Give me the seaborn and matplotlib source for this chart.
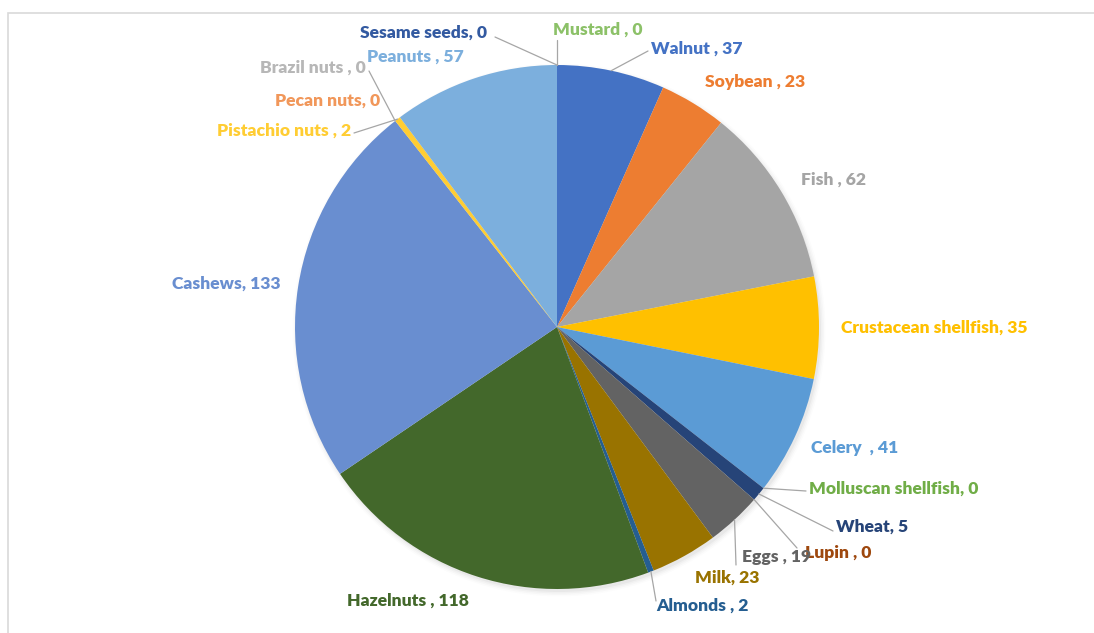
import numpy as np
import matplotlib
matplotlib.use("Agg")
from matplotlib import pyplot as plt
from matplotlib.patches import Circle, Rectangle
import seaborn as sns

# pie order, clockwise from 12 o'clock (as in the source sheet)
allergens = ["Walnut ", "Soybean ", "Fish ", "Crustacean shellfish", "Celery  ",
             "Molluscan shellfish", "Wheat", "Lupin ", "Eggs ", "Milk", "Almonds ",
             "Hazelnuts ", "Cashews", "Pecan nuts", "Brazil nuts ", "Pistachio nuts ",
             "Peanuts ", "Mustard ", "Sesame seeds"]
counts = [37, 23, 62, 35, 41, 0, 5, 0, 19, 23, 2, 118, 133, 0, 0, 2, 57, 0, 0]

office_colors = ["#4472C4", "#ED7D31", "#A5A5A5", "#FFC000", "#5B9BD5", "#70AD47",
                 "#264478", "#9E480E", "#636363", "#997300", "#255E91", "#43682B",
                 "#698ED0", "#F1975A", "#B7B7B7", "#FFCD33", "#7CAFDD", "#8CC168",
                 "#335AA1"]

W, H = 1094, 633
CX, CY, R = 557, 327, 262

# label layout: left x, centre y (pixels from top), optional leader line start
label_pos = {
    "Walnut ": (651, 49, (648, 51)),
    "Soybean ": (705, 82, None),
    "Fish ": (801, 180, None),
    "Crustacean shellfish": (841, 328, None),
    "Celery  ": (811, 448, None),
    "Molluscan shellfish": (809, 489, (806, 491)),
    "Wheat": (836, 527, (833, 531)),
    "Lupin ": (805, 553, (797, 548)),
    "Eggs ": (742, 557, (736, 565)),
    "Milk": (695, 578, None),
    "Almonds ": (656, 606, (656, 601)),
    "Hazelnuts ": (347, 601, None),
    "Cashews": (172, 284, None),
    "Pecan nuts": (275, 101, None),
    "Brazil nuts ": (260, 68, (369, 71)),
    "Pistachio nuts ": (217, 131, (354, 133)),
    "Peanuts ": (367, 57, None),
    "Mustard ": (553, 30, (557, 40)),
    "Sesame seeds": (360, 33, (495, 37)),
}

sns.set_theme(style="white")
plt.rcParams["font.family"] = ["Lato", "DejaVu Sans"]

fig = plt.figure(figsize=(W / 100, H / 100), dpi=100)
ax = fig.add_axes([0, 0, 1, 1])

# frame of the sheet
ax.add_patch(Rectangle((8, -5), W, H - 13 + 5, fill=False, edgecolor="#d9d9d9", lw=1.2))

# soft shadow (bottom right)
for i, a in enumerate([0.035, 0.025, 0.018, 0.012]):
    ax.add_patch(Circle((CX + 2, H - CY - 3), R + i * 1.5, color="black", alpha=a, lw=0))

colors = sns.color_palette(office_colors)
wedges, _ = ax.pie(counts, colors=colors, startangle=90, counterclock=False,
                   center=(CX, H - CY), radius=R, frame=True,
                   wedgeprops=dict(linewidth=0))
ax.set_xlim(0, W)
ax.set_ylim(0, H)
ax.set_aspect("equal")
ax.axis("off")

for w, name, val, col in zip(wedges, allergens, counts, colors):
    x, y, lead = label_pos[name]
    ax.text(x, H - y, f"{name}, {val}", color=col, fontsize=12.6, fontweight="heavy",
            ha="left", va="center")
    if lead is not None:
        mid = np.deg2rad((w.theta1 + w.theta2) / 2)
        ex = CX + R * np.cos(mid)
        ey = H - CY + R * np.sin(mid)
        ax.plot([lead[0], ex], [H - lead[1], ey], color="#a6a6a6", lw=0.9)

plt.savefig("out.png", dpi=100)
